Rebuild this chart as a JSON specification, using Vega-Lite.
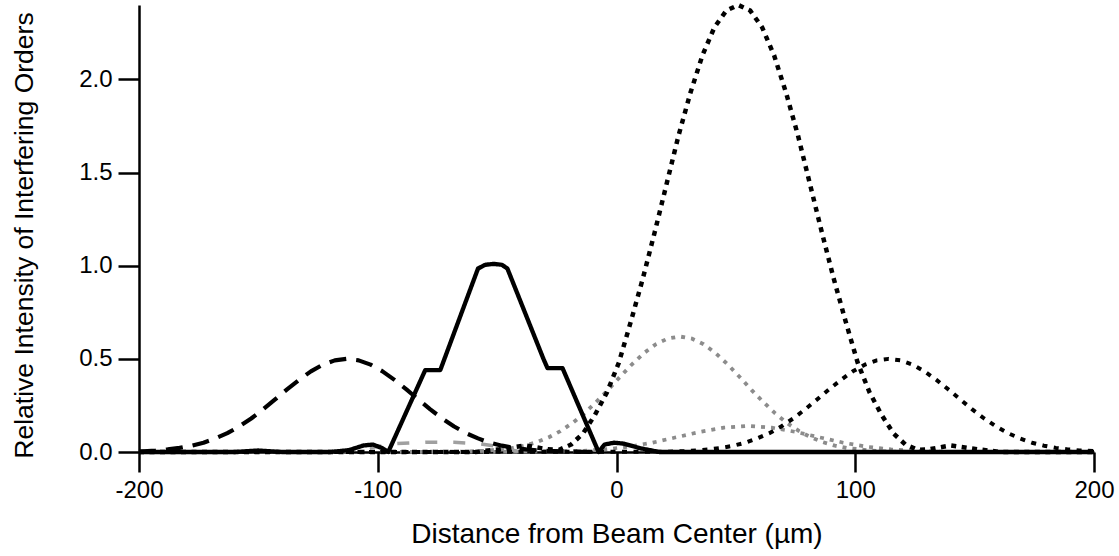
{
  "$schema": "https://vega.github.io/schema/vega-lite/v6.json",
  "autosize": {"type": "none"},
  "width": 955,
  "height": 447,
  "padding": {"left": 139, "top": 5, "right": 25, "bottom": 104},
  "background": "white",
  "view": {"stroke": null},
  "config": {
    "font": "Liberation Sans",
    "axis": {
      "grid": false,
      "domainColor": "black",
      "domainWidth": 2.5,
      "tickColor": "black",
      "tickWidth": 2.5,
      "labelColor": "black",
      "labelFont": "Liberation Sans",
      "labelFontSize": 24,
      "titleColor": "black",
      "titleFont": "Liberation Sans",
      "titleFontSize": 28,
      "titleFontWeight": "normal",
      "labelOverlap": false,
      "labelFlush": false
    }
  },
  "data": {
    "values": [
      {"s": "solid", "x": -200, "y": 0},
      {"s": "solid", "x": -160, "y": 0},
      {"s": "solid", "x": -150, "y": 0.008},
      {"s": "solid", "x": -140, "y": 0},
      {"s": "solid", "x": -120, "y": 0},
      {"s": "solid", "x": -112, "y": 0.01},
      {"s": "solid", "x": -106, "y": 0.035},
      {"s": "solid", "x": -102, "y": 0.04},
      {"s": "solid", "x": -98, "y": 0.02},
      {"s": "solid", "x": -95.6, "y": 0},
      {"s": "solid", "x": -80.1, "y": 0.44},
      {"s": "solid", "x": -73.8, "y": 0.44},
      {"s": "solid", "x": -58, "y": 0.985},
      {"s": "solid", "x": -55, "y": 1.005},
      {"s": "solid", "x": -51.5, "y": 1.01},
      {"s": "solid", "x": -48, "y": 1.005},
      {"s": "solid", "x": -45.7, "y": 0.985},
      {"s": "solid", "x": -30.6, "y": 0.5},
      {"s": "solid", "x": -28.9, "y": 0.45},
      {"s": "solid", "x": -22.6, "y": 0.45},
      {"s": "solid", "x": -7.5, "y": 0},
      {"s": "solid", "x": -5, "y": 0.04},
      {"s": "solid", "x": -1, "y": 0.05},
      {"s": "solid", "x": 3, "y": 0.045},
      {"s": "solid", "x": 10, "y": 0.02},
      {"s": "solid", "x": 18, "y": 0},
      {"s": "solid", "x": 200, "y": 0},

      {"s": "dashed", "x": -200, "y": 0.002},
      {"s": "dashed", "x": -193, "y": 0.008},
      {"s": "dashed", "x": -188, "y": 0.014},
      {"s": "dashed", "x": -183, "y": 0.022},
      {"s": "dashed", "x": -178, "y": 0.034},
      {"s": "dashed", "x": -173, "y": 0.05},
      {"s": "dashed", "x": -168, "y": 0.073},
      {"s": "dashed", "x": -163, "y": 0.101},
      {"s": "dashed", "x": -158, "y": 0.137},
      {"s": "dashed", "x": -153, "y": 0.18},
      {"s": "dashed", "x": -148, "y": 0.229},
      {"s": "dashed", "x": -143, "y": 0.282},
      {"s": "dashed", "x": -138, "y": 0.336},
      {"s": "dashed", "x": -133, "y": 0.387},
      {"s": "dashed", "x": -128, "y": 0.433},
      {"s": "dashed", "x": -123, "y": 0.469},
      {"s": "dashed", "x": -118, "y": 0.492},
      {"s": "dashed", "x": -113, "y": 0.5},
      {"s": "dashed", "x": -108, "y": 0.492},
      {"s": "dashed", "x": -103, "y": 0.469},
      {"s": "dashed", "x": -98, "y": 0.433},
      {"s": "dashed", "x": -93, "y": 0.387},
      {"s": "dashed", "x": -88, "y": 0.336},
      {"s": "dashed", "x": -83, "y": 0.282},
      {"s": "dashed", "x": -78, "y": 0.229},
      {"s": "dashed", "x": -73, "y": 0.18},
      {"s": "dashed", "x": -68, "y": 0.137},
      {"s": "dashed", "x": -63, "y": 0.101},
      {"s": "dashed", "x": -58, "y": 0.073},
      {"s": "dashed", "x": -53, "y": 0.05},
      {"s": "dashed", "x": -48, "y": 0.034},
      {"s": "dashed", "x": -43, "y": 0.022},
      {"s": "dashed", "x": -38, "y": 0.014},
      {"s": "dashed", "x": -33, "y": 0.008},
      {"s": "dashed", "x": -23, "y": 0.003},
      {"s": "dashed", "x": -10, "y": 0},

      {"s": "bigdot", "x": -200, "y": 0},
      {"s": "bigdot", "x": -59, "y": 0},
      {"s": "bigdot", "x": -49, "y": 0.015},
      {"s": "bigdot", "x": -38, "y": 0.035},
      {"s": "bigdot", "x": -29, "y": 0.015},
      {"s": "bigdot", "x": -24, "y": 0.012},
      {"s": "bigdot", "x": -19, "y": 0.04},
      {"s": "bigdot", "x": -14, "y": 0.1},
      {"s": "bigdot", "x": -9, "y": 0.2},
      {"s": "bigdot", "x": -4, "y": 0.32},
      {"s": "bigdot", "x": 1, "y": 0.48},
      {"s": "bigdot", "x": 6, "y": 0.7},
      {"s": "bigdot", "x": 11, "y": 0.93},
      {"s": "bigdot", "x": 16, "y": 1.18},
      {"s": "bigdot", "x": 21, "y": 1.44},
      {"s": "bigdot", "x": 26, "y": 1.7},
      {"s": "bigdot", "x": 31, "y": 1.93},
      {"s": "bigdot", "x": 36, "y": 2.13},
      {"s": "bigdot", "x": 41, "y": 2.28},
      {"s": "bigdot", "x": 46, "y": 2.37},
      {"s": "bigdot", "x": 51, "y": 2.4},
      {"s": "bigdot", "x": 56, "y": 2.37},
      {"s": "bigdot", "x": 61, "y": 2.28},
      {"s": "bigdot", "x": 66, "y": 2.13},
      {"s": "bigdot", "x": 71, "y": 1.93},
      {"s": "bigdot", "x": 76, "y": 1.7},
      {"s": "bigdot", "x": 81, "y": 1.44},
      {"s": "bigdot", "x": 86, "y": 1.18},
      {"s": "bigdot", "x": 91, "y": 0.93},
      {"s": "bigdot", "x": 96, "y": 0.7},
      {"s": "bigdot", "x": 101, "y": 0.48},
      {"s": "bigdot", "x": 106, "y": 0.32},
      {"s": "bigdot", "x": 111, "y": 0.2},
      {"s": "bigdot", "x": 116, "y": 0.1},
      {"s": "bigdot", "x": 121, "y": 0.04},
      {"s": "bigdot", "x": 126, "y": 0.012},
      {"s": "bigdot", "x": 131, "y": 0.015},
      {"s": "bigdot", "x": 140, "y": 0.035},
      {"s": "bigdot", "x": 151, "y": 0.015},
      {"s": "bigdot", "x": 161, "y": 0},
      {"s": "bigdot", "x": 200, "y": 0},

      {"s": "rightdot", "x": -200, "y": 0},
      {"s": "rightdot", "x": 20, "y": 0.001},
      {"s": "rightdot", "x": 30, "y": 0.005},
      {"s": "rightdot", "x": 39, "y": 0.014},
      {"s": "rightdot", "x": 44, "y": 0.022},
      {"s": "rightdot", "x": 49, "y": 0.034},
      {"s": "rightdot", "x": 54, "y": 0.05},
      {"s": "rightdot", "x": 59, "y": 0.073},
      {"s": "rightdot", "x": 64, "y": 0.101},
      {"s": "rightdot", "x": 69, "y": 0.137},
      {"s": "rightdot", "x": 74, "y": 0.18},
      {"s": "rightdot", "x": 79, "y": 0.229},
      {"s": "rightdot", "x": 84, "y": 0.282},
      {"s": "rightdot", "x": 89, "y": 0.336},
      {"s": "rightdot", "x": 94, "y": 0.387},
      {"s": "rightdot", "x": 99, "y": 0.433},
      {"s": "rightdot", "x": 104, "y": 0.469},
      {"s": "rightdot", "x": 109, "y": 0.492},
      {"s": "rightdot", "x": 114, "y": 0.5},
      {"s": "rightdot", "x": 119, "y": 0.492},
      {"s": "rightdot", "x": 124, "y": 0.469},
      {"s": "rightdot", "x": 129, "y": 0.433},
      {"s": "rightdot", "x": 134, "y": 0.387},
      {"s": "rightdot", "x": 139, "y": 0.336},
      {"s": "rightdot", "x": 144, "y": 0.282},
      {"s": "rightdot", "x": 149, "y": 0.229},
      {"s": "rightdot", "x": 154, "y": 0.18},
      {"s": "rightdot", "x": 159, "y": 0.137},
      {"s": "rightdot", "x": 164, "y": 0.101},
      {"s": "rightdot", "x": 169, "y": 0.073},
      {"s": "rightdot", "x": 174, "y": 0.05},
      {"s": "rightdot", "x": 179, "y": 0.034},
      {"s": "rightdot", "x": 184, "y": 0.022},
      {"s": "rightdot", "x": 189, "y": 0.014},
      {"s": "rightdot", "x": 194, "y": 0.008},
      {"s": "rightdot", "x": 200, "y": 0.005},

      {"s": "graydot", "x": -120, "y": 0},
      {"s": "graydot", "x": -63.5, "y": 0.0016},
      {"s": "graydot", "x": -53.5, "y": 0.0077},
      {"s": "graydot", "x": -43.5, "y": 0.0215},
      {"s": "graydot", "x": -38.5, "y": 0.034},
      {"s": "graydot", "x": -33.5, "y": 0.0525},
      {"s": "graydot", "x": -28.5, "y": 0.078},
      {"s": "graydot", "x": -23.5, "y": 0.112},
      {"s": "graydot", "x": -18.5, "y": 0.155},
      {"s": "graydot", "x": -13.5, "y": 0.207},
      {"s": "graydot", "x": -8.5, "y": 0.268},
      {"s": "graydot", "x": -3.5, "y": 0.334},
      {"s": "graydot", "x": 1.5, "y": 0.404},
      {"s": "graydot", "x": 6.5, "y": 0.471},
      {"s": "graydot", "x": 11.5, "y": 0.531},
      {"s": "graydot", "x": 16.5, "y": 0.579},
      {"s": "graydot", "x": 21.5, "y": 0.609},
      {"s": "graydot", "x": 26.5, "y": 0.62},
      {"s": "graydot", "x": 31.5, "y": 0.609},
      {"s": "graydot", "x": 36.5, "y": 0.579},
      {"s": "graydot", "x": 41.5, "y": 0.531},
      {"s": "graydot", "x": 46.5, "y": 0.471},
      {"s": "graydot", "x": 51.5, "y": 0.404},
      {"s": "graydot", "x": 56.5, "y": 0.334},
      {"s": "graydot", "x": 61.5, "y": 0.268},
      {"s": "graydot", "x": 66.5, "y": 0.207},
      {"s": "graydot", "x": 71.5, "y": 0.155},
      {"s": "graydot", "x": 76.5, "y": 0.112},
      {"s": "graydot", "x": 81.5, "y": 0.078},
      {"s": "graydot", "x": 86.5, "y": 0.0525},
      {"s": "graydot", "x": 91.5, "y": 0.034},
      {"s": "graydot", "x": 96.5, "y": 0.0215},
      {"s": "graydot", "x": 106.5, "y": 0.0077},
      {"s": "graydot", "x": 116.5, "y": 0.0016},
      {"s": "graydot", "x": 130, "y": 0},

      {"s": "graylow", "x": -60, "y": 0},
      {"s": "graylow", "x": -15, "y": 0.006},
      {"s": "graylow", "x": -5, "y": 0.014},
      {"s": "graylow", "x": 5, "y": 0.028},
      {"s": "graylow", "x": 15, "y": 0.05},
      {"s": "graylow", "x": 25, "y": 0.079},
      {"s": "graylow", "x": 35, "y": 0.108},
      {"s": "graylow", "x": 45, "y": 0.131},
      {"s": "graylow", "x": 55, "y": 0.14},
      {"s": "graylow", "x": 65, "y": 0.131},
      {"s": "graylow", "x": 75, "y": 0.108},
      {"s": "graylow", "x": 85, "y": 0.079},
      {"s": "graylow", "x": 95, "y": 0.05},
      {"s": "graylow", "x": 105, "y": 0.028},
      {"s": "graylow", "x": 115, "y": 0.014},
      {"s": "graylow", "x": 125, "y": 0.006},
      {"s": "graylow", "x": 140, "y": 0},

      {"s": "graydash", "x": -115, "y": 0},
      {"s": "graydash", "x": -100, "y": 0.03},
      {"s": "graydash", "x": -92, "y": 0.045},
      {"s": "graydash", "x": -80, "y": 0.052},
      {"s": "graydash", "x": -68, "y": 0.052},
      {"s": "graydash", "x": -58, "y": 0.045},
      {"s": "graydash", "x": -50, "y": 0.03},
      {"s": "graydash", "x": -40, "y": 0}
    ]
  },
  "encoding": {
    "x": {
      "field": "x",
      "type": "quantitative",
      "scale": {"domain": [-200, 200], "nice": false, "zero": false},
      "axis": {
        "values": [-200, -100, 0, 100, 200],
        "tickSize": 20,
        "labelPadding": 6,
        "labelExpr": "datum.value < 0 ? '-' + abs(datum.value) : '' + datum.value",
        "title": "Distance from Beam Center (µm)",
        "titlePadding": 18
      }
    },
    "y": {
      "field": "y",
      "type": "quantitative",
      "scale": {"domain": [0, 2.4], "nice": false},
      "axis": {
        "values": [0, 0.5, 1, 1.5, 2],
        "format": ".1f",
        "tickSize": 21,
        "labelPadding": 6,
        "title": "Relative Intensity of Interfering Orders",
        "titleFontSize": 26.5,
        "titleY": 230,
        "titlePadding": 40
      }
    },
    "color": {
      "field": "s",
      "type": "nominal",
      "legend": null,
      "scale": {
        "domain": ["graydash", "graylow", "graydot", "rightdot", "dashed", "solid", "bigdot"],
        "range": ["#a0a0a0", "#8c8c8c", "#8c8c8c", "black", "black", "black", "black"]
      }
    },
    "strokeDash": {
      "field": "s",
      "type": "nominal",
      "legend": null,
      "scale": {
        "domain": ["graydash", "graylow", "graydot", "rightdot", "dashed", "solid", "bigdot"],
        "range": [[12, 16], [4, 6], [4, 6], [5, 6.5], [17, 10], [1, 0], [5, 5.5]]
      }
    },
    "strokeWidth": {
      "field": "s",
      "type": "nominal",
      "legend": null,
      "scale": {
        "domain": ["graydash", "graylow", "graydot", "rightdot", "dashed", "solid", "bigdot"],
        "range": [3.5, 4.5, 4.5, 5, 5, 4.5, 5]
      }
    }
  },
  "layer": [
    {
      "transform": [{"filter": "indexof(['graydash','graylow','graydot'], datum.s) >= 0"}],
      "mark": {"type": "line", "strokeJoin": "round", "strokeCap": "butt"}
    },
    {
      "transform": [{"filter": "indexof(['graydash','graylow','graydot'], datum.s) < 0"}],
      "mark": {"type": "line", "strokeJoin": "round", "strokeCap": "butt"}
    }
  ]
}
